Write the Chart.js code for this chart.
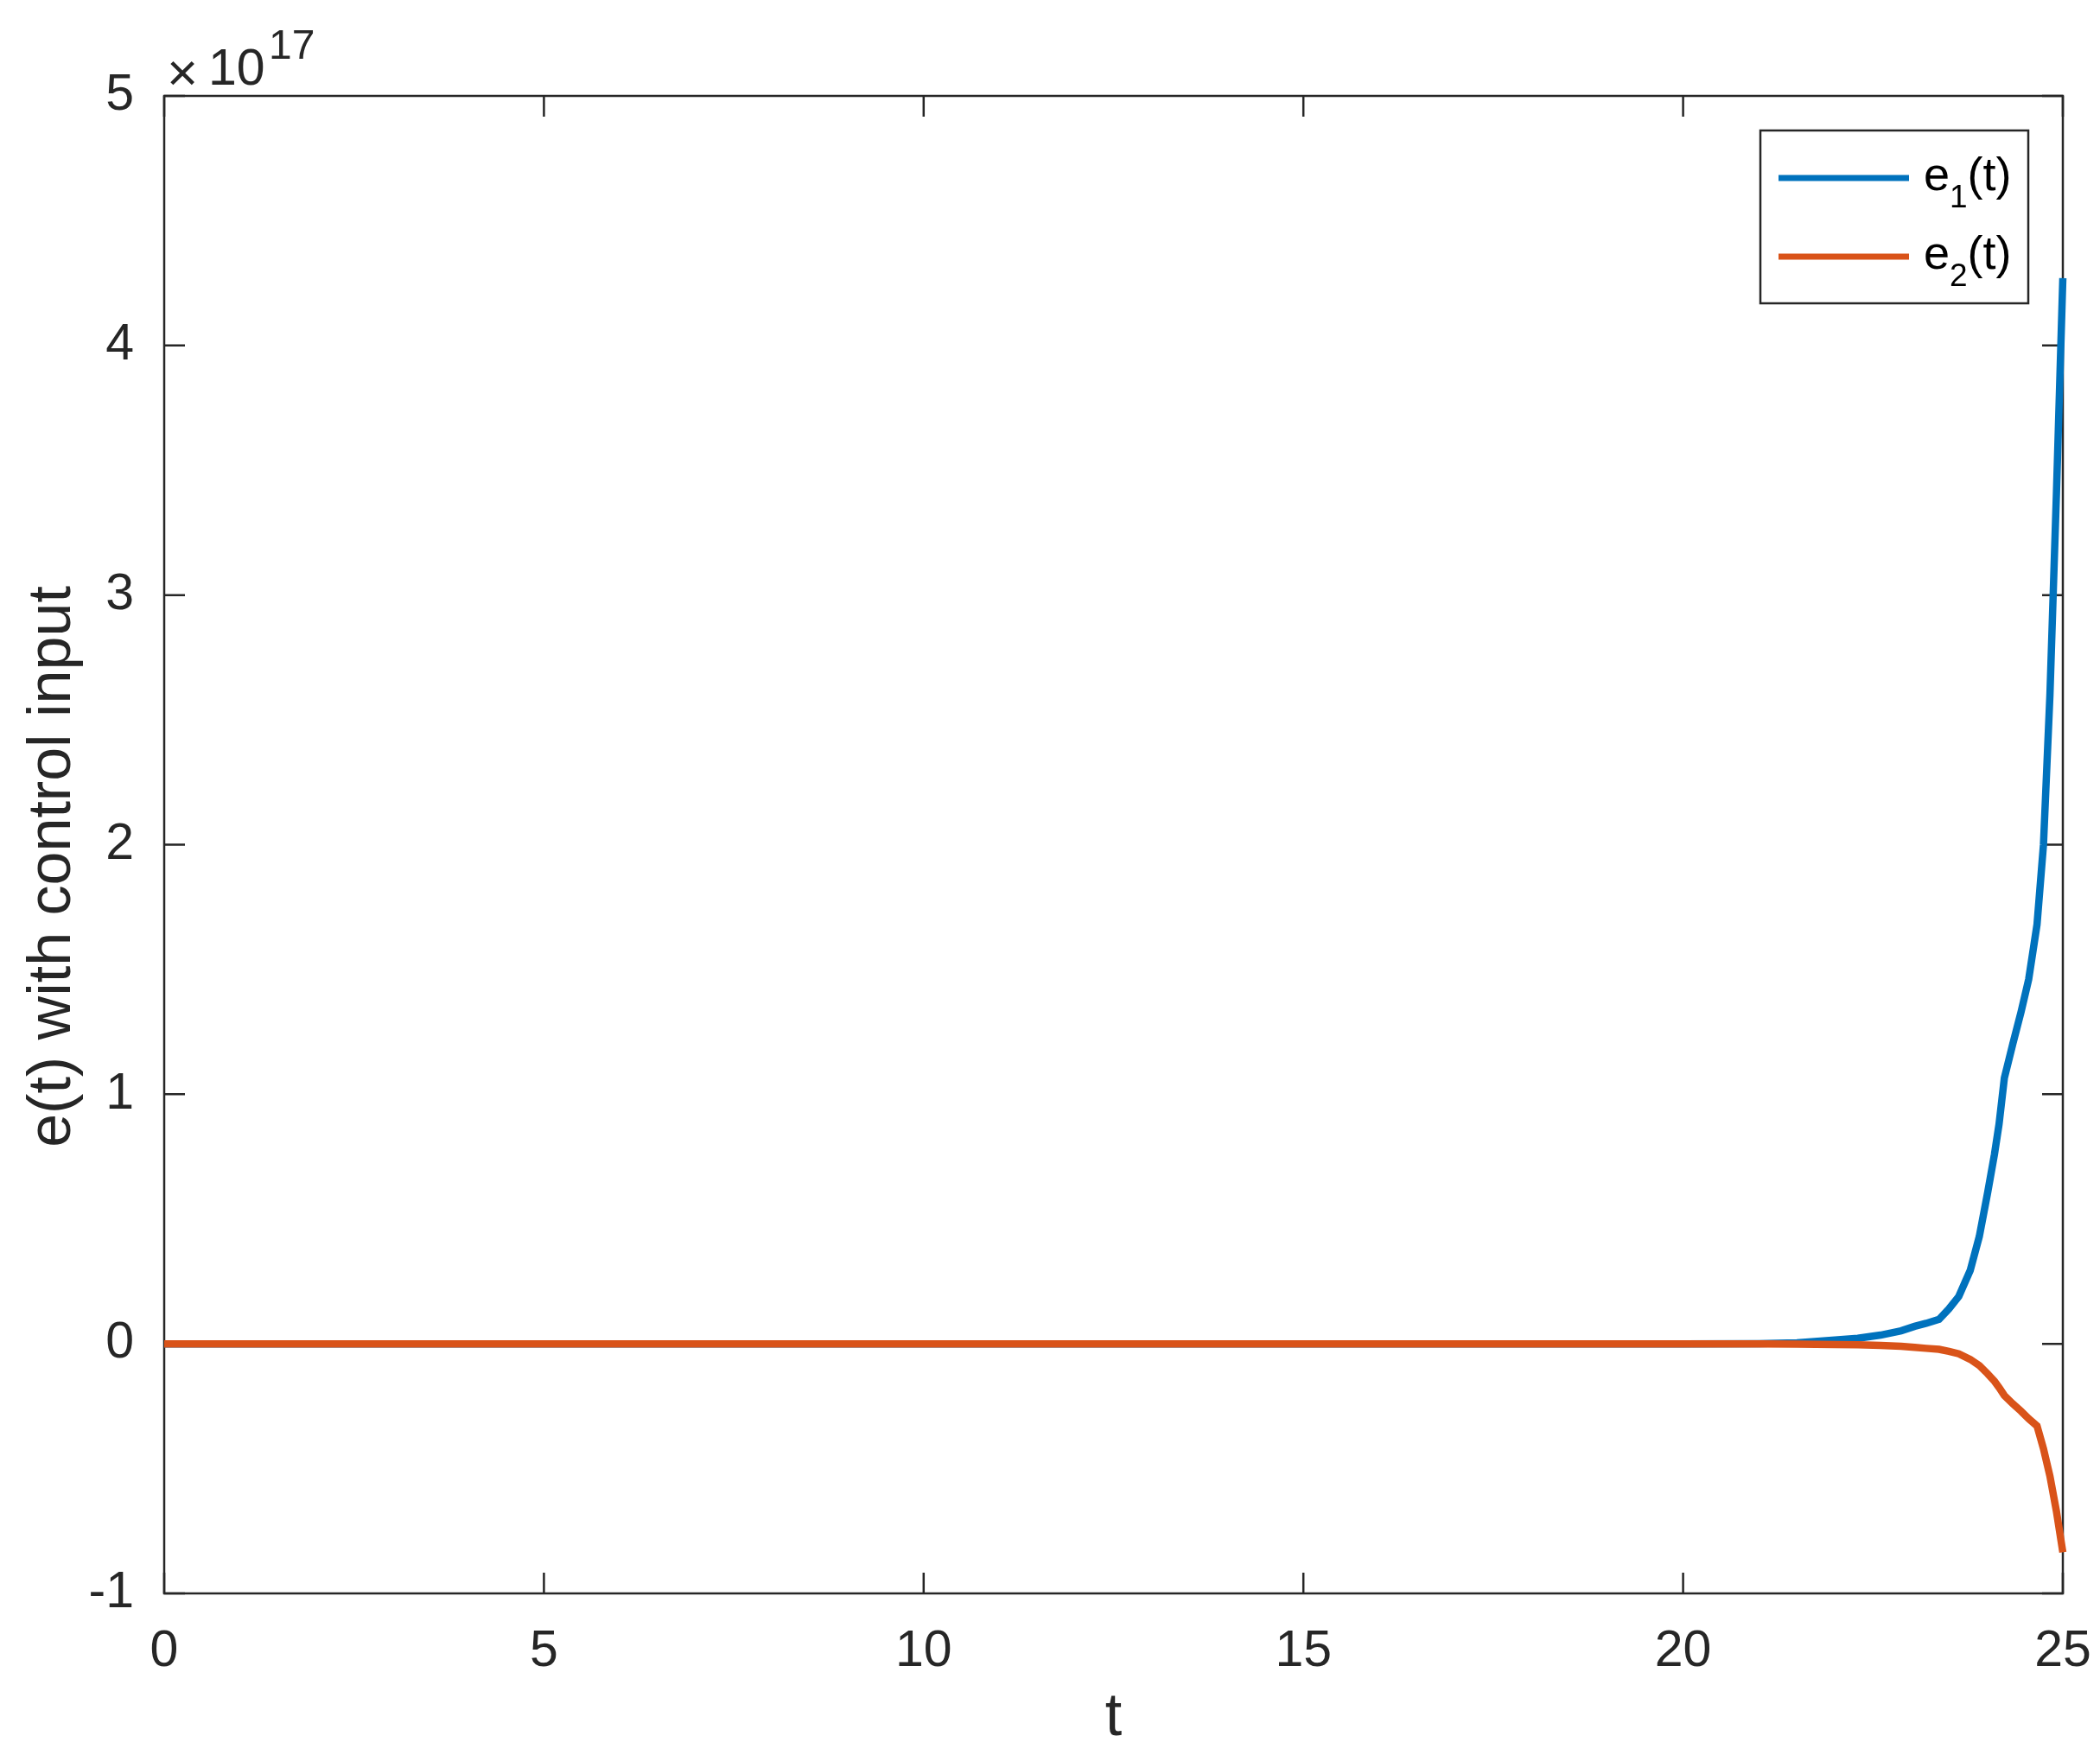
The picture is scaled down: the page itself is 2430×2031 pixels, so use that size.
<!DOCTYPE html>
<html>
<head>
<meta charset="utf-8">
<script src="https://cdn.jsdelivr.net/npm/chart.js@4.4.1/dist/chart.umd.min.js"></script>
<style>
  html, body { margin: 0; padding: 0; background: #ffffff; }
</style>
</head>
<body>
<canvas id="errorChart" width="2430" height="2031"></canvas>
<script>
// tiempo t y errores e1, e2 (en unidades de 1e17)
var tiempo = [0, 5, 10, 15, 20, 21, 21.5, 22, 22.3, 22.6, 22.87, 23.05, 23.2, 23.37, 23.5, 23.63, 23.78, 23.9,
              24.01, 24.1, 24.16, 24.23, 24.34, 24.45, 24.55, 24.66, 24.745, 24.83, 24.915, 25];
var e1 = [0, 0, 0, 0, 0, 0.001, 0.004, 0.015, 0.022, 0.035, 0.052, 0.07, 0.082, 0.098, 0.14, 0.19, 0.294, 0.43,
          0.606, 0.76, 0.88, 1.065, 1.2, 1.33, 1.46, 1.68, 2.0, 2.6, 3.4, 4.27];
var e2 = [0, 0, 0, 0, 0, 0, -0.001, -0.003, -0.004, -0.006, -0.01, -0.014, -0.018, -0.022, -0.03, -0.04, -0.062, -0.087,
          -0.12, -0.15, -0.175, -0.207, -0.24, -0.27, -0.30, -0.329, -0.42, -0.53, -0.67, -0.835];

var xTicks = [0, 5, 10, 15, 20, 25];
var yTicks = [-1, 0, 1, 2, 3, 4, 5];
var exponente = "17";
var tituloY = "e(t) with control input";
var nombres = [["e", "1", "(t)"], ["e", "2", "(t)"]];
var colores = ["#0072BD", "#D95319"];

var FONT = "'Liberation Sans', Arial, Helvetica, sans-serif";
var INK = "#262626";

function puntos(valores) {
    return tiempo.map(function (t, i) { return { x: t, y: valores[i] }; });
}

// ejes tipo MATLAB: caja y marcas hacia adentro
var cajaEjes = {
    id: "cajaEjes",
    beforeDatasetsDraw: function (chart) {
        var ctx = chart.ctx;
        var a = chart.chartArea;
        var sx = chart.scales.x, sy = chart.scales.y;
        var len = 24;
        ctx.save();
        ctx.strokeStyle = INK;
        ctx.lineWidth = 2.5;
        ctx.strokeRect(a.left, a.top, a.right - a.left, a.bottom - a.top);
        ctx.beginPath();
        xTicks.forEach(function (v) {
            var px = sx.getPixelForValue(v);
            ctx.moveTo(px, a.bottom); ctx.lineTo(px, a.bottom - len);
            ctx.moveTo(px, a.top); ctx.lineTo(px, a.top + len);
        });
        yTicks.forEach(function (v) {
            var py = sy.getPixelForValue(v);
            ctx.moveTo(a.left, py); ctx.lineTo(a.left + len, py);
            ctx.moveTo(a.right, py); ctx.lineTo(a.right - len, py);
        });
        ctx.stroke();
        ctx.restore();
    },
    afterDraw: function (chart) {
        var ctx = chart.ctx;
        ctx.save();
        ctx.fillStyle = INK;

        // titulo del eje y (un poco por debajo del centro, como en MATLAB)
        ctx.save();
        ctx.translate(62, 1003);
        ctx.rotate(-Math.PI / 2);
        ctx.textAlign = "center";
        ctx.textBaseline = "middle";
        ctx.font = "70px " + FONT;
        ctx.fillText(tituloY, 0, 0);
        ctx.restore();

        ctx.textBaseline = "alphabetic";
        ctx.textAlign = "left";
        // x10^17
        ctx.font = "62px " + FONT;
        ctx.fillText("\u00d7", 193, 105);
        ctx.font = "59px " + FONT;
        ctx.fillText("10", 241, 98);
        ctx.font = "48px " + FONT;
        ctx.fillText(exponente, 311, 68);

        // leyenda
        var bx = 2037, by = 151, bw = 310, bh = 200;
        ctx.fillStyle = "#ffffff";
        ctx.fillRect(bx, by, bw, bh);
        ctx.strokeStyle = INK;
        ctx.lineWidth = 2.5;
        ctx.strokeRect(bx, by, bw, bh);
        var filas = [206, 297];
        nombres.forEach(function (n, i) {
            var y = filas[i];
            ctx.strokeStyle = colores[i];
            ctx.lineWidth = 7;
            ctx.beginPath();
            ctx.moveTo(2058, y);
            ctx.lineTo(2209, y);
            ctx.stroke();
            ctx.fillStyle = "#000000";
            var x = 2226;
            var base = y + 14;
            ctx.font = "54px " + FONT;
            ctx.fillText(n[0], x, base);
            x += ctx.measureText(n[0]).width;
            ctx.font = "37px " + FONT;
            ctx.fillText(n[1], x, base + 20);
            x += ctx.measureText(n[1]).width;
            ctx.font = "54px " + FONT;
            ctx.fillText(n[2], x, base);
        });
        ctx.restore();
    }
};

var ctx = document.getElementById("errorChart").getContext("2d");
var chart = new Chart(ctx, {
    type: "line",
    data: {
        datasets: [
            {
                label: "e1(t)",
                data: puntos(e1),
                borderColor: colores[0],
                borderWidth: 8.5,
                pointRadius: 0,
                tension: 0,
                fill: false,
                clip: 8,
                order: 2
            },
            {
                label: "e2(t)",
                data: puntos(e2),
                borderColor: colores[1],
                borderWidth: 8.5,
                pointRadius: 0,
                tension: 0,
                fill: false,
                clip: 8,
                order: 1
            }
        ]
    },
    options: {
        responsive: false,
        animation: false,
        devicePixelRatio: 1,
        layout: { padding: { top: 111, right: 43, left: 0, bottom: 0 } },
        plugins: {
            legend: { display: false },
            tooltip: { enabled: false }
        },
        scales: {
            x: {
                type: "linear",
                min: 0,
                max: 25,
                afterBuildTicks: function (s) { s.ticks = xTicks.map(function (v) { return { value: v }; }); },
                afterFit: function (s) {
                    s.height = 187;
                    s.paddingLeft = 0;
                    s.paddingRight = 0;
                },
                grid: { display: false },
                border: { display: false },
                ticks: {
                    color: INK,
                    font: { family: FONT, size: 59 },
                    padding: 24,
                    maxRotation: 0,
                    autoSkip: false,
                    callback: function (v) { return String(v); }
                },
                title: {
                    display: true,
                    text: "t",
                    color: INK,
                    font: { family: FONT, size: 70 },
                    padding: { top: 0, bottom: 0 }
                }
            },
            y: {
                type: "linear",
                min: -1,
                max: 5,
                afterBuildTicks: function (s) { s.ticks = yTicks.map(function (v) { return { value: v }; }); },
                afterFit: function (s) {
                    s.width = 190;
                    s.paddingTop = 0;
                    s.paddingBottom = 0;
                },
                grid: { display: false },
                border: { display: false },
                ticks: {
                    color: INK,
                    font: { family: FONT, size: 59 },
                    padding: 27,
                    autoSkip: false,
                    callback: function (v) { return String(v); }
                },
                title: { display: false }
            }
        }
    },
    plugins: [cajaEjes]
});
</script>
</body>
</html>
